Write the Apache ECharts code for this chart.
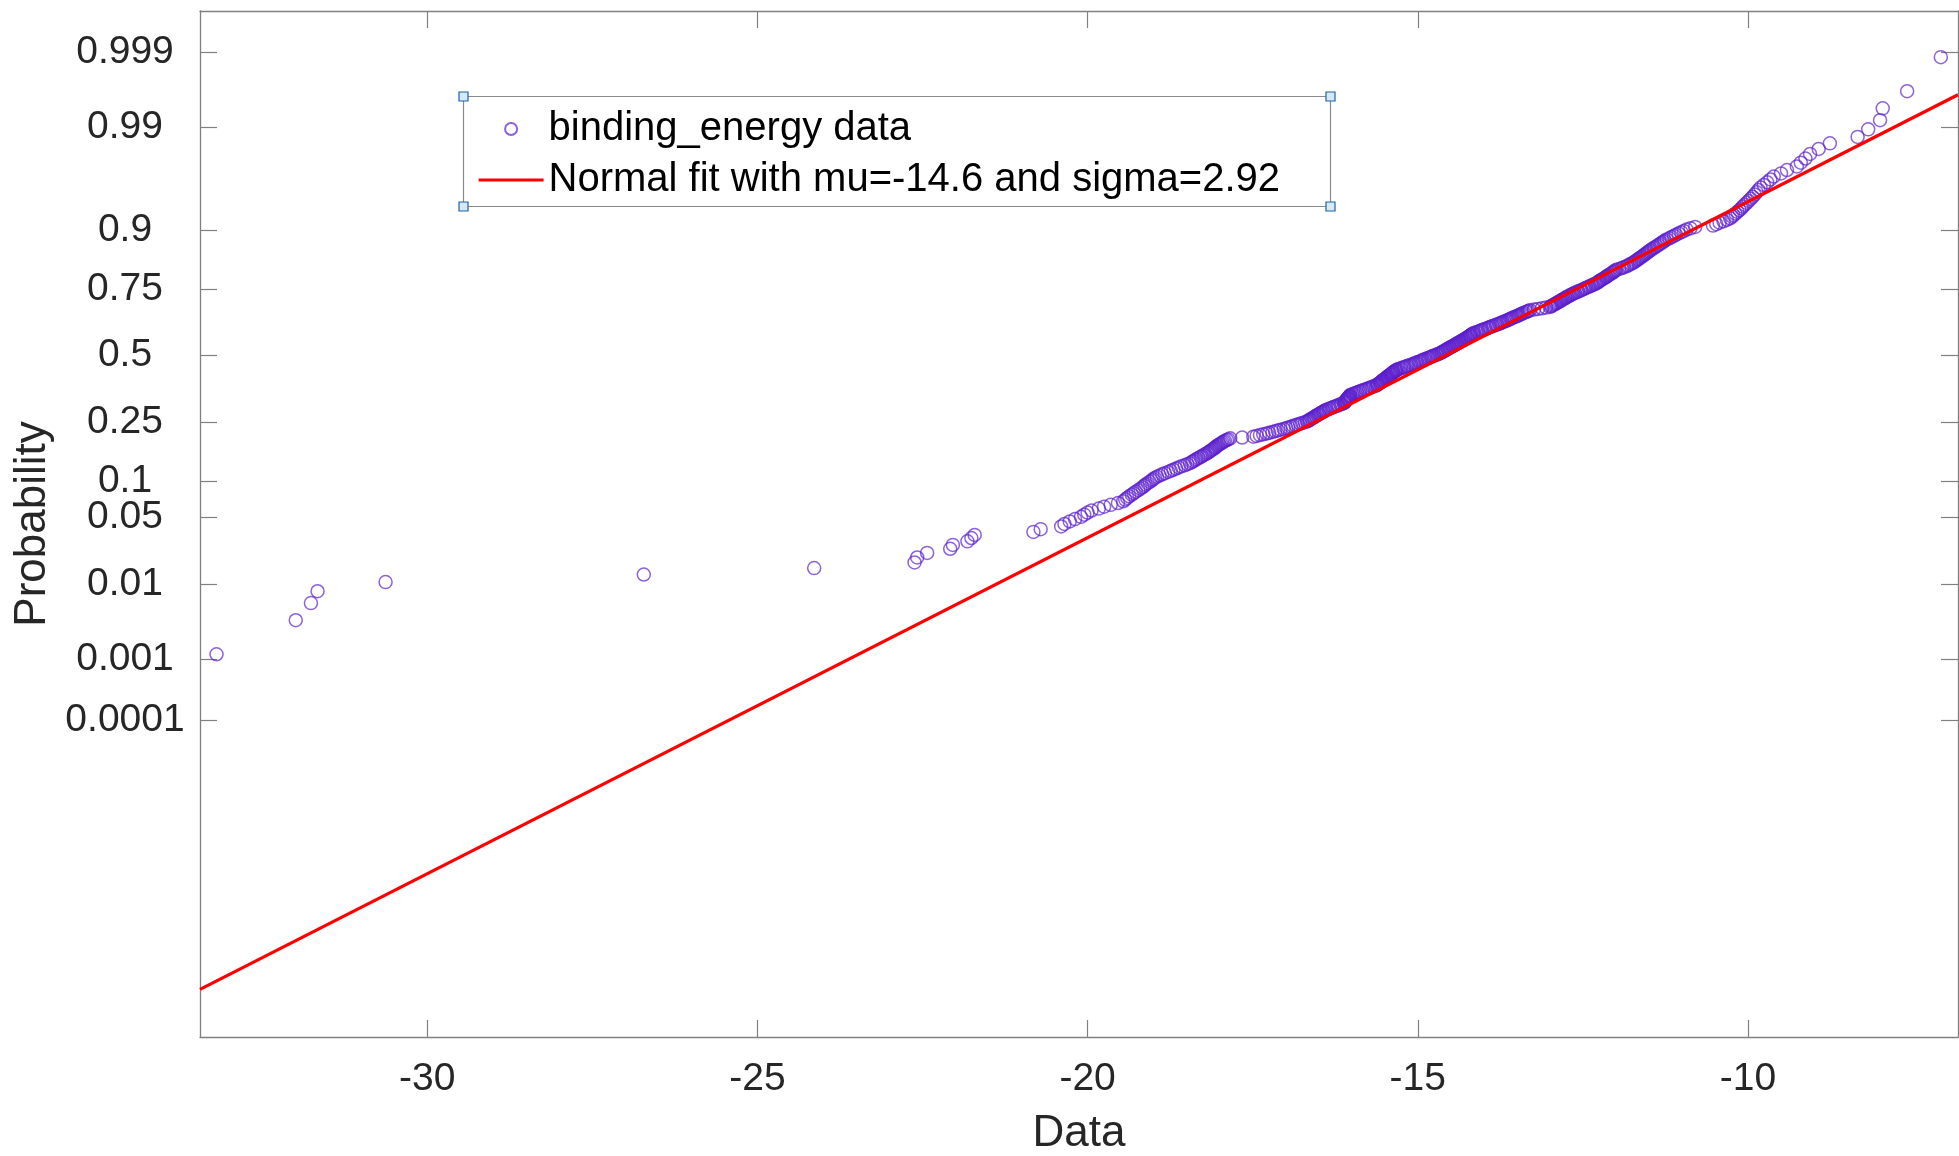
<!DOCTYPE html>
<html><head><meta charset="utf-8">
<script src="https://cdn.jsdelivr.net/npm/echarts@6/dist/echarts.min.js"></script>
<style>html,body{margin:0;padding:0;background:#fff}#c{width:1959px;height:1156px}</style>
</head><body><div id="c"></div><script>
const bindingEnergy = [
-33.19,-31.99,-31.76,-31.66,-30.63,-26.72,-24.14,-22.62,-22.58,-22.43,
-22.08,-22.04,-21.82,-21.76,-21.71,-20.82,-20.71,-20.40,-20.35,-20.27,
-20.19,-20.10,-20.05,-20.00,-19.94,-19.83,-19.75,-19.65,-19.54,-19.46,
-19.43,-19.40,-19.37,-19.33,-19.30,-19.27,-19.23,-19.20,-19.17,-19.14,
-19.12,-19.09,-19.06,-19.03,-19.01,-18.98,-18.95,-18.91,-18.87,-18.83,
-18.78,-18.74,-18.70,-18.66,-18.62,-18.58,-18.53,-18.49,-18.45,-18.42,
-18.40,-18.37,-18.35,-18.32,-18.29,-18.27,-18.24,-18.22,-18.19,-18.17,
-18.15,-18.13,-18.11,-18.09,-18.07,-18.06,-18.04,-18.02,-18.00,-17.98,
-17.96,-17.94,-17.92,-17.89,-17.87,-17.84,-17.66,-17.49,-17.44,-17.39,
-17.34,-17.29,-17.25,-17.20,-17.16,-17.12,-17.08,-17.03,-16.99,-16.96,
-16.92,-16.89,-16.85,-16.82,-16.78,-16.75,-16.71,-16.68,-16.66,-16.64,
-16.63,-16.61,-16.59,-16.57,-16.56,-16.54,-16.52,-16.50,-16.49,-16.47,
-16.45,-16.43,-16.42,-16.40,-16.38,-16.35,-16.33,-16.30,-16.28,-16.25,
-16.22,-16.20,-16.17,-16.15,-16.12,-16.11,-16.10,-16.10,-16.09,-16.08,
-16.07,-16.06,-16.06,-16.05,-16.04,-16.03,-16.03,-16.02,-15.99,-15.97,
-15.94,-15.92,-15.89,-15.87,-15.84,-15.82,-15.79,-15.77,-15.74,-15.72,
-15.69,-15.67,-15.64,-15.62,-15.61,-15.60,-15.58,-15.57,-15.56,-15.55,
-15.54,-15.53,-15.52,-15.50,-15.49,-15.48,-15.47,-15.46,-15.45,-15.44,
-15.42,-15.41,-15.40,-15.39,-15.38,-15.37,-15.36,-15.34,-15.33,-15.32,
-15.30,-15.27,-15.25,-15.22,-15.20,-15.17,-15.15,-15.12,-15.10,-15.07,
-15.05,-15.03,-15.01,-14.98,-14.96,-14.94,-14.92,-14.90,-14.88,-14.85,
-14.83,-14.81,-14.79,-14.77,-14.75,-14.72,-14.70,-14.68,-14.66,-14.64,
-14.63,-14.61,-14.60,-14.58,-14.57,-14.55,-14.54,-14.52,-14.51,-14.49,
-14.47,-14.46,-14.44,-14.43,-14.41,-14.40,-14.38,-14.37,-14.35,-14.34,
-14.32,-14.31,-14.29,-14.28,-14.26,-14.25,-14.24,-14.22,-14.21,-14.20,
-14.19,-14.17,-14.16,-14.14,-14.11,-14.09,-14.06,-14.04,-14.02,-13.99,
-13.97,-13.94,-13.92,-13.90,-13.87,-13.85,-13.82,-13.80,-13.77,-13.75,
-13.73,-13.71,-13.69,-13.66,-13.64,-13.62,-13.60,-13.58,-13.56,-13.54,
-13.51,-13.49,-13.47,-13.45,-13.43,-13.41,-13.39,-13.36,-13.34,-13.32,
-13.30,-13.24,-13.18,-13.12,-13.06,-13.00,-12.98,-12.97,-12.95,-12.93,
-12.91,-12.90,-12.88,-12.86,-12.84,-12.83,-12.81,-12.79,-12.77,-12.76,
-12.74,-12.72,-12.70,-12.68,-12.66,-12.64,-12.62,-12.59,-12.57,-12.54,
-12.52,-12.49,-12.47,-12.45,-12.42,-12.40,-12.37,-12.35,-12.32,-12.30,
-12.28,-12.26,-12.25,-12.23,-12.21,-12.19,-12.17,-12.15,-12.14,-12.12,
-12.10,-12.08,-12.06,-12.04,-12.03,-12.01,-11.99,-11.95,-11.91,-11.88,
-11.84,-11.82,-11.79,-11.77,-11.74,-11.72,-11.70,-11.68,-11.66,-11.64,
-11.62,-11.60,-11.58,-11.56,-11.54,-11.52,-11.50,-11.48,-11.46,-11.43,
-11.41,-11.38,-11.36,-11.33,-11.31,-11.28,-11.26,-11.23,-11.19,-11.16,
-11.12,-11.09,-11.05,-11.01,-10.97,-10.93,-10.87,-10.80,-10.53,-10.48,
-10.43,-10.37,-10.32,-10.27,-10.24,-10.22,-10.19,-10.16,-10.13,-10.10,
-10.08,-10.05,-10.02,-9.99,-9.96,-9.93,-9.90,-9.87,-9.84,-9.81,
-9.76,-9.71,-9.66,-9.61,-9.50,-9.41,-9.26,-9.20,-9.13,-9.06,
-8.93,-8.76,-8.34,-8.18,-8.00,-7.96,-7.59,-7.08
];
// Probability tick marks on the normal-probability axis
const probTickValues = [0.0001, 0.001, 0.01, 0.05, 0.1, 0.25, 0.5, 0.75, 0.9, 0.99, 0.999];
const probTickLabels = ['0.0001', '0.001', '0.01', '0.05', '0.1', '0.25', '0.5', '0.75', '0.9', '0.99', '0.999'];
// Data axis ticks and range
const xTickValues = [-30, -25, -20, -15, -10];
const xRange = [-33.44, -6.82];
// Normal-score (z) range of the vertical axis
const zRange = [-6.945, 3.514];
// Fitted normal reference line end points (data value, normal score)
const fitLineX = [-33.44, -6.82];
const fitLineZ = [-6.46, 2.66];
const seriesNames = ['binding_energy data', 'Normal fit with mu=-14.6 and sigma=2.92'];

// inverse standard normal CDF (probability scale transform)
function norminv(p) {
  const a=[-3.969683028665376e+01,2.209460984245205e+02,-2.759285104469687e+02,1.383577518672690e+02,-3.066479806614716e+01,2.506628277459239e+00];
  const b=[-5.447609879822406e+01,1.615858368580409e+02,-1.556989798598866e+02,6.680131188771972e+01,-1.328068155288572e+01];
  const c=[-7.784894002430293e-03,-3.223964580411365e-01,-2.400758277161838e+00,-2.549732539343734e+00,4.374664141464968e+00,2.938163982698783e+00];
  const d=[7.784695709041462e-03,3.224671290700398e-01,2.445134137142996e+00,3.754408661907416e+00];
  const pl=0.02425, ph=1-pl; let q, r;
  if (p < pl) { q=Math.sqrt(-2*Math.log(p)); return (((((c[0]*q+c[1])*q+c[2])*q+c[3])*q+c[4])*q+c[5])/((((d[0]*q+d[1])*q+d[2])*q+d[3])*q+1); }
  if (p <= ph) { q=p-0.5; r=q*q; return (((((a[0]*r+a[1])*r+a[2])*r+a[3])*r+a[4])*r+a[5])*q/(((((b[0]*r+b[1])*r+b[2])*r+b[3])*r+b[4])*r+1); }
  q=Math.sqrt(-2*Math.log(1-p)); return -(((((c[0]*q+c[1])*q+c[2])*q+c[3])*q+c[4])*q+c[5])/((((d[0]*q+d[1])*q+d[2])*q+d[3])*q+1);
}

const n = bindingEnergy.length;
// normplot plotting positions (i-0.5)/n mapped to normal scores
const scatterData = bindingEnergy.map((v, i) => [v, norminv((i + 0.5) / n)]);
const fitData = fitLineX.map((v, i) => [v, fitLineZ[i]]);
const zTicks = probTickValues.map(norminv);

const FONT = 'Liberation Sans, Arial, Helvetica, sans-serif';
const AX = '#808080';
const TXT = '#262626';

const chart = echarts.init(document.getElementById('c'), null, {renderer: 'canvas'});
chart.setOption({
  animation: false,
  backgroundColor: '#ffffff',
  grid: {left: 200, top: 11, right: 1, bottom: 119, containLabel: false, outerBoundsMode: 'none'},
  xAxis: [{
    type: 'value', position: 'bottom', min: xRange[0], max: xRange[1],
    name: 'Data', nameLocation: 'middle', nameGap: 75,
    nameTextStyle: {fontSize: 44, color: TXT, fontFamily: FONT},
    axisLine: {show: true, onZero: false, lineStyle: {color: AX, width: 1.3}},
    axisTick: {show: true, inside: true, length: 17, customValues: xTickValues, lineStyle: {color: AX, width: 1.2}},
    axisLabel: {show: true, customValues: xTickValues, margin: 23, fontSize: 39, color: TXT, fontFamily: FONT},
    splitLine: {show: false}
  }, {
    type: 'value', position: 'top', min: xRange[0], max: xRange[1],
    axisLine: {show: true, onZero: false, lineStyle: {color: AX, width: 1.3}},
    axisTick: {show: true, inside: true, length: 17, customValues: xTickValues, lineStyle: {color: AX, width: 1.2}},
    axisLabel: {show: false},
    splitLine: {show: false}
  }],
  yAxis: [{
    type: 'value', position: 'left', min: zRange[0], max: zRange[1],
    name: 'Probability', nameLocation: 'middle', nameGap: 142, nameRotate: 90,
    nameTextStyle: {fontSize: 44, color: TXT, fontFamily: FONT},
    axisLine: {show: true, onZero: false, lineStyle: {color: AX, width: 1.3}},
    axisTick: {show: true, inside: true, length: 17, customValues: zTicks, lineStyle: {color: AX, width: 1.2}},
    axisLabel: {
      show: true, customValues: zTicks, margin: 75, align: 'center', fontSize: 39, color: TXT, fontFamily: FONT,
      hideOverlap: false, padding: [6, 0, 0, 0], backgroundColor: 'rgba(255,255,255,0)',
      formatter: function (v) {
        let k = 0, best = Infinity;
        zTicks.forEach((t, j) => { const dd = Math.abs(t - v); if (dd < best) { best = dd; k = j; } });
        return probTickLabels[k];
      }
    },
    splitLine: {show: false}
  }, {
    type: 'value', position: 'right', min: zRange[0], max: zRange[1],
    axisLine: {show: true, onZero: false, lineStyle: {color: AX, width: 1.3}},
    axisTick: {show: true, inside: true, length: 17, customValues: zTicks, lineStyle: {color: AX, width: 1.2}},
    axisLabel: {show: false},
    splitLine: {show: false}
  }],
  legend: {
    show: true, orient: 'vertical', left: 477, top: 107, padding: 0,
    itemWidth: 65, itemHeight: 12, itemGap: 7, selectedMode: false,
    data: [
      {name: seriesNames[0]},
      {name: seriesNames[1], itemStyle: {opacity: 0}, lineStyle: {width: 3.2, color: '#ff0000'}}
    ],
    textStyle: {fontSize: 40, color: '#000', fontFamily: FONT, lineHeight: 44},
    z: 10
  },
  graphic: [
    {type: 'rect', z: 5, shape: {x: 463.5, y: 96.5, width: 867, height: 110}, style: {fill: 'none', stroke: '#8a8a8a', lineWidth: 1.2}},
    {type: 'rect', z: 6, shape: {x: 459, y: 92, width: 9, height: 9}, style: {fill: '#d6e9f8', stroke: '#1f62a8', lineWidth: 1.2}},
    {type: 'rect', z: 6, shape: {x: 1326, y: 92, width: 9, height: 9}, style: {fill: '#d6e9f8', stroke: '#1f62a8', lineWidth: 1.2}},
    {type: 'rect', z: 6, shape: {x: 459, y: 202, width: 9, height: 9}, style: {fill: '#d6e9f8', stroke: '#1f62a8', lineWidth: 1.2}},
    {type: 'rect', z: 6, shape: {x: 1326, y: 202, width: 9, height: 9}, style: {fill: '#d6e9f8', stroke: '#1f62a8', lineWidth: 1.2}}
  ],
  series: [{
    name: seriesNames[0], type: 'scatter', xAxisIndex: 0, yAxisIndex: 0,
    data: scatterData, symbol: 'circle', symbolSize: 13, z: 2,
    itemStyle: {color: 'rgba(0,0,0,0)', borderColor: 'rgba(92,32,205,0.88)', borderWidth: 1.5},
    emphasis: {disabled: true}
  }, {
    name: seriesNames[1], type: 'line', xAxisIndex: 0, yAxisIndex: 0,
    data: fitData, symbol: 'none', showSymbol: false, z: 3,
    lineStyle: {color: '#ff0000', width: 3.2}, itemStyle: {color: '#ff0000'},
    emphasis: {disabled: true}
  }]
});
</script></body></html>
